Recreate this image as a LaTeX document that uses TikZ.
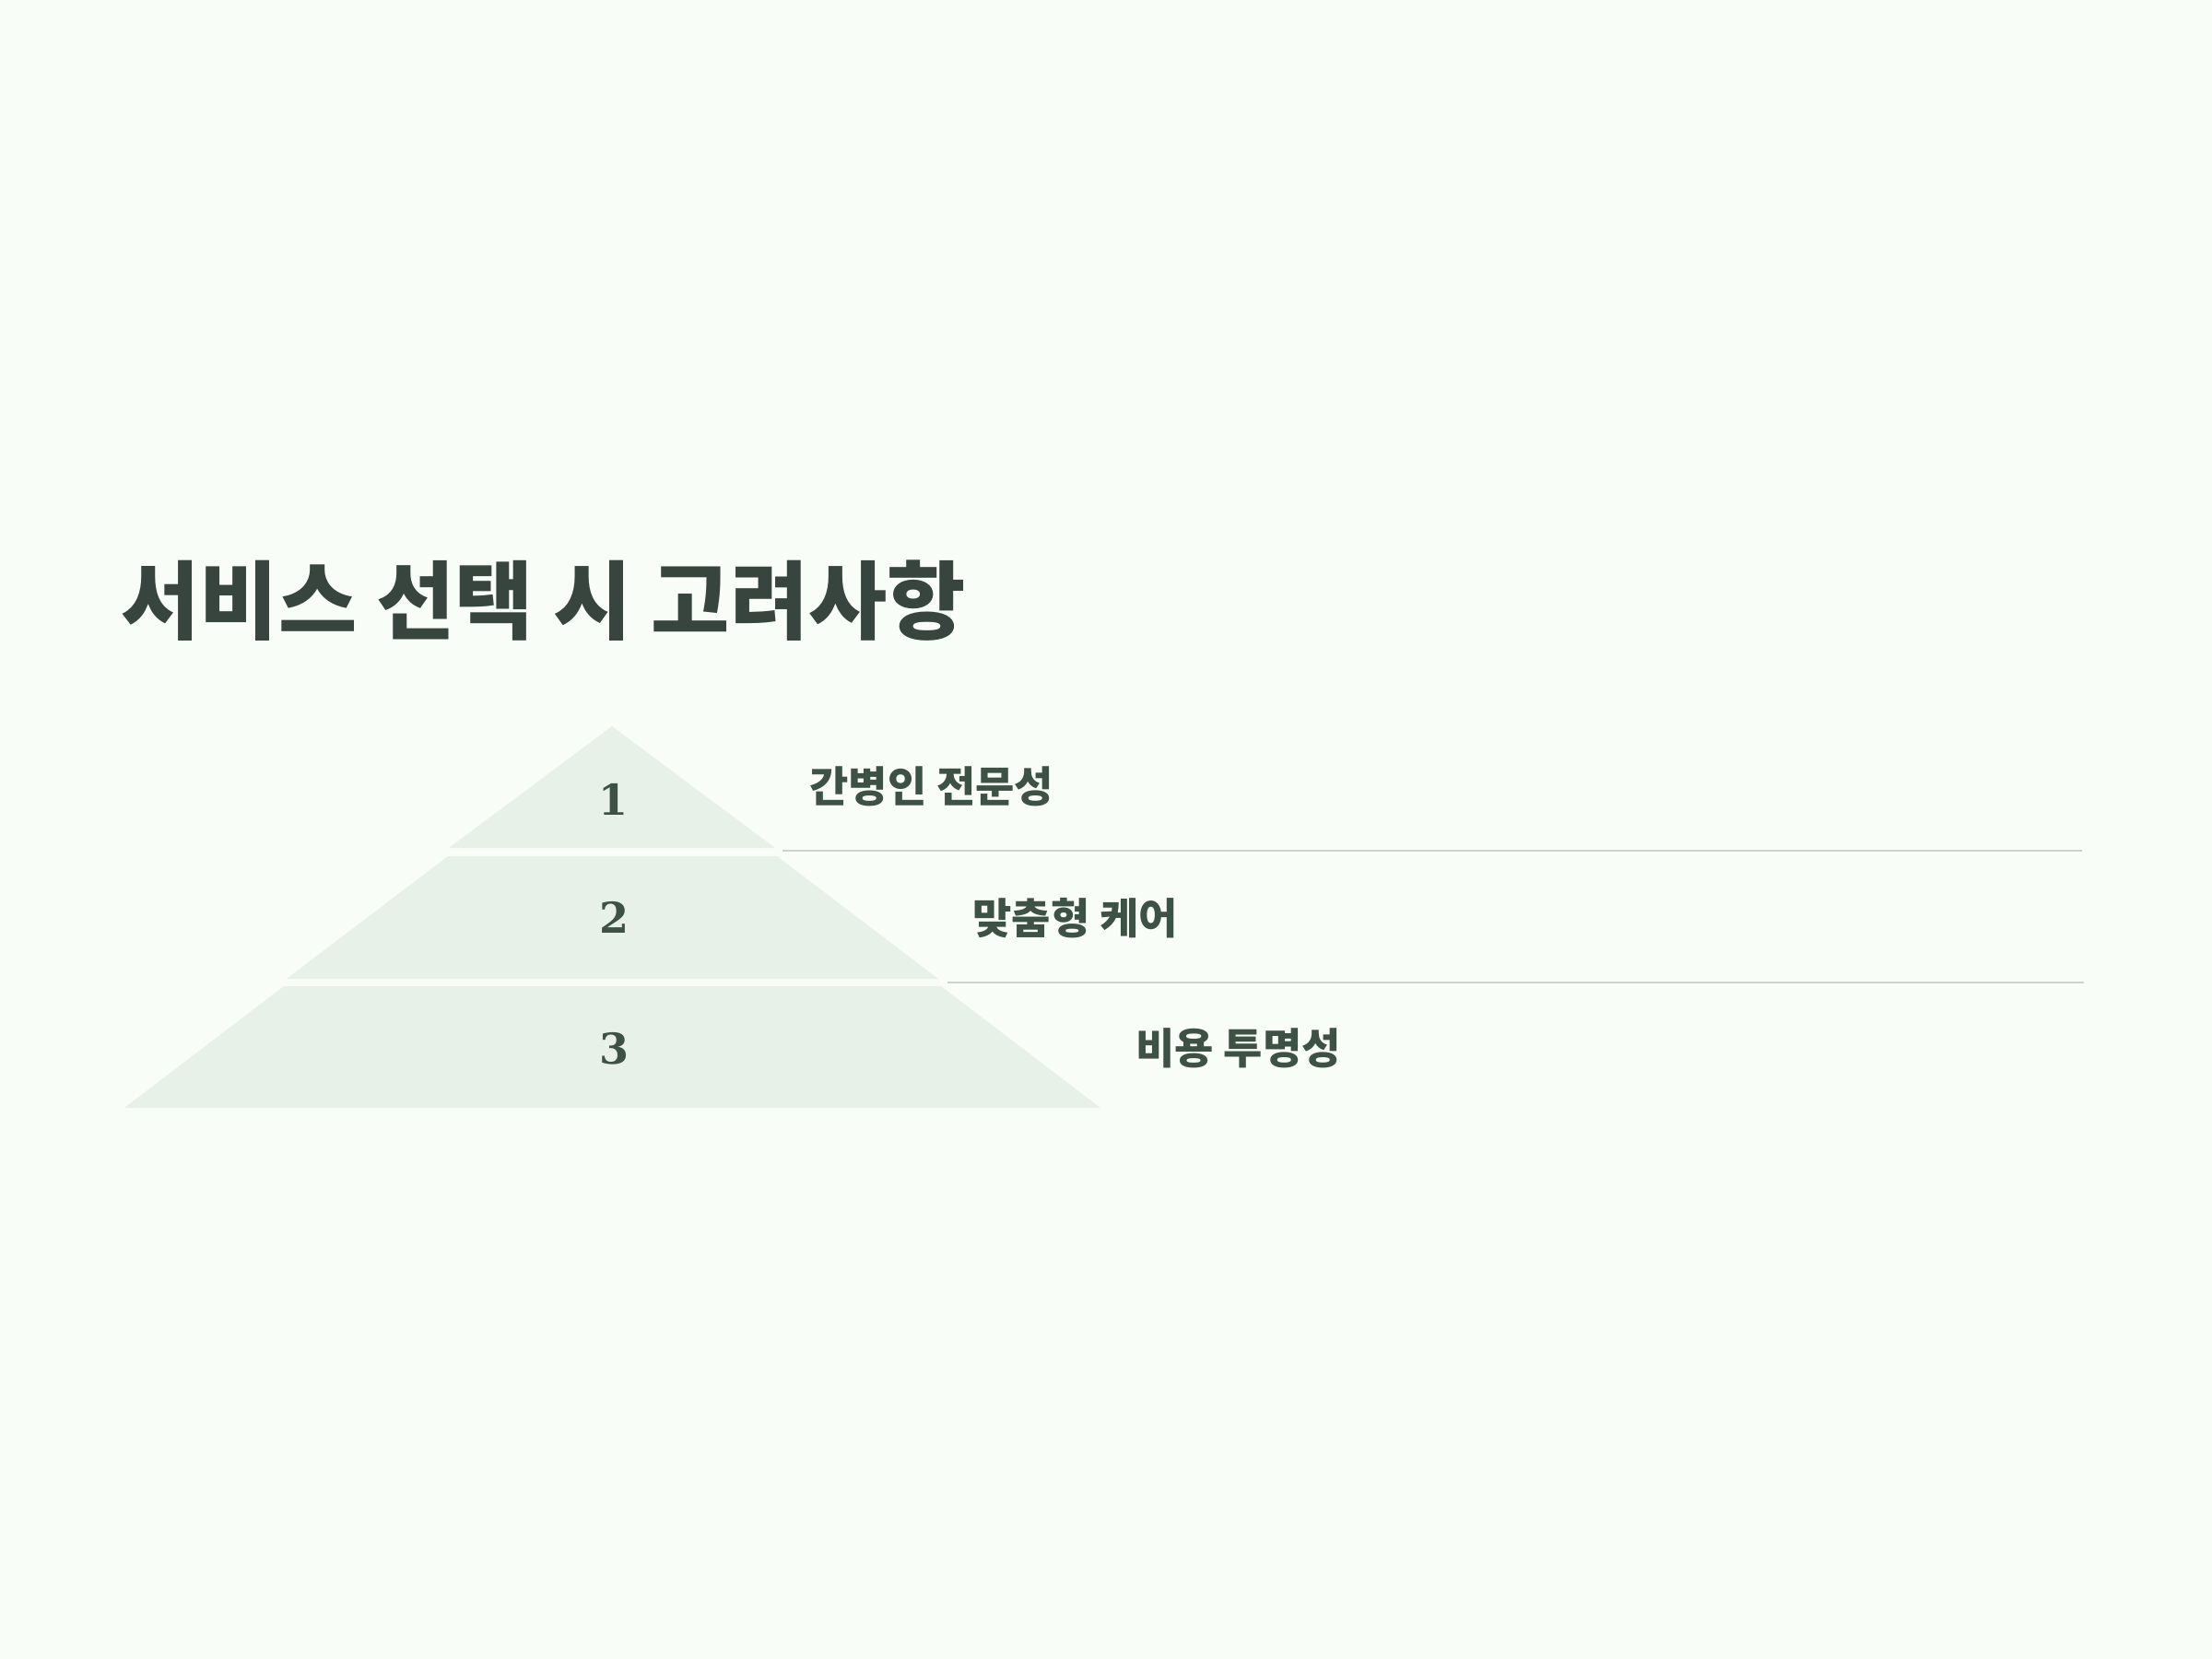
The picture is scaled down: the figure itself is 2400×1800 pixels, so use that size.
\documentclass[tikz,border=0pt]{standalone}
\usepackage{fontspec}
\newfontfamily\kr{Noto Sans CJK KR}
\newfontfamily\numfont{DejaVu Serif}
\definecolor{bg}{HTML}{F8FEF7}
\definecolor{tier}{HTML}{E7F1E7}
\definecolor{titlec}{HTML}{38443E}
\definecolor{itemc}{HTML}{3D5245}
\definecolor{rulec}{HTML}{CAD4CA}
\tikzset{
  tierbox/.style={fill=tier, draw=none},
  numlabel/.style={inner sep=0pt, text=itemc, font=\numfont\bfseries\fontsize{13.8}{14}\selectfont},
  itemlabel/.style={inner sep=0pt, anchor=base west, text=itemc, font=\kr\bfseries\fontsize{13.8}{15}\selectfont},
  sepline/.style={draw=rulec, line width=0.6pt},
}
\begin{document}
\begin{tikzpicture}[x=0.3pt, y=-0.3pt]
\fill[bg] (0,0) rectangle (2400,1800);
\useasboundingbox (0,0) rectangle (2400,1800);
% title
\node[inner sep=0pt, anchor=base west, text=titlec, font=\kr\bfseries\fontsize{27.8}{32}\selectfont] (title) at (131,686) {서비스 선택 시 고려사항};
% pyramid tiers
\fill[tierbox] (664,788) -- (841,920) -- (487,920) -- cycle;
\fill[tierbox] (486,929) -- (843,929) -- (1018,1062) -- (311,1062) -- cycle;
\fill[tierbox] (308,1070) -- (1021,1070) -- (1194,1202) -- (135,1202) -- cycle;
% numbers
\node[numlabel] (n1) at (665,867) {1};
\node[numlabel] (n2) at (666,995) {2};
\node[numlabel] (n3) at (666,1138) {3};
% items
\node[itemlabel] (t1) at (878,870) {간병인 전문성};
\node[itemlabel] (t2) at (1055,1013) {맞춤형 케어};
\node[itemlabel] (t3) at (1232,1154) {비용 투명성};
% separator lines
\coordinate (l1a) at (849,923);
\coordinate (l1b) at (2259,923);
\coordinate (l2a) at (1028,1066);
\coordinate (l2b) at (2261,1066);
\draw[sepline] (l1a) -- (l1b);
\draw[sepline] (l2a) -- (l2b);
\end{tikzpicture}
\end{document}
